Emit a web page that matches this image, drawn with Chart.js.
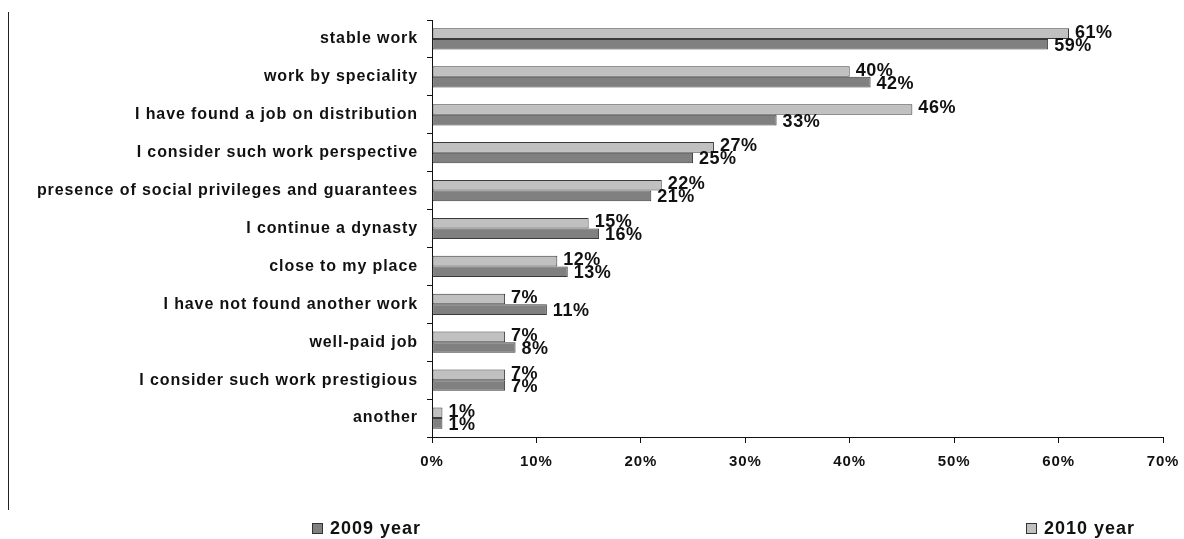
<!DOCTYPE html>
<html>
<head>
<meta charset="utf-8">
<script src="https://cdn.jsdelivr.net/npm/chart.js@4/dist/chart.umd.min.js"></script>
<style>
  html, body { margin: 0; padding: 0; background: #fff; }
  #wrap { position: relative; width: 1184px; height: 539px; }
  #c { position: absolute; left: 0; top: 0; }
  #vline { position: absolute; left: 8px; top: 12px; width: 1px; height: 498px; background: #222; }
  .leg { position: absolute; top: 518px; font: bold 18px "Liberation Sans", Arial, sans-serif; letter-spacing: 1px; color: #111; line-height: 20px; }
  .leg span.box { display: inline-block; width: 9px; height: 9px; border: 1px solid #333; margin-right: 7px; vertical-align: 0px; }
</style>
</head>
<body>
<div id="wrap">
  <canvas id="c" width="1184" height="539"></canvas>
  <div id="vline"></div>
  <div class="leg" style="left:312px"><span class="box" style="background:#808080"></span>2009 year</div>
  <div class="leg" style="left:1026px"><span class="box" style="background:#c0c0c0"></span>2010 year</div>
</div>
<script>
const categories = [
  "stable work",
  "work by speciality",
  "I have found a job on distribution",
  "I consider such work perspective",
  "presence of social privileges and guarantees",
  "I continue a dynasty",
  "close to my place",
  "I have not found another work",
  "well-paid job",
  "I consider such work prestigious",
  "another"
];
const values2010 = [61, 40, 46, 27, 22, 15, 12, 7, 7, 7, 1];
const values2009 = [59, 42, 33, 25, 21, 16, 13, 11, 8, 7, 1];
const xTicks = [0, 10, 20, 30, 40, 50, 60, 70];

const FONT = '"Liberation Sans", Arial, sans-serif';

const spacingPlugin = {
  id: 'spacing',
  beforeLayout(chart) { chart.ctx.letterSpacing = '0.9px'; },
  beforeDraw(chart) { chart.ctx.letterSpacing = '0.9px'; }
};

const labelPlugin = {
  id: 'barLabels',
  afterDatasetsDraw(chart) {
    const ctx = chart.ctx;
    ctx.save();
    ctx.font = 'bold 18px ' + FONT;
    ctx.letterSpacing = '0.5px';
    ctx.fillStyle = '#111';
    ctx.textAlign = 'left';
    ctx.textBaseline = 'middle';
    chart.data.datasets.forEach((ds, di) => {
      const meta = chart.getDatasetMeta(di);
      meta.data.forEach((el, i) => {
        const dy = di === 0 ? -1 : 1.5;
        ctx.fillText(ds.data[i] + '%', el.x + 6, el.y + dy);
      });
    });
    ctx.restore();
  }
};

new Chart(document.getElementById('c'), {
  type: 'bar',
  data: {
    labels: categories,
    datasets: [
      { label: '2010 year', data: values2010, backgroundColor: '#c0c0c0', borderColor: '#3a3a3a', borderWidth: 1, borderSkipped: false,
        categoryPercentage: 0.56, barPercentage: 1.0 },
      { label: '2009 year', data: values2009, backgroundColor: '#808080', borderColor: '#3a3a3a', borderWidth: 1, borderSkipped: false,
        categoryPercentage: 0.56, barPercentage: 1.0 }
    ]
  },
  options: {
    indexAxis: 'y',
    responsive: false,
    animation: false,
    layout: { padding: { top: 20, right: 21, bottom: 72, left: 0 } },
    plugins: { legend: { display: false }, tooltip: { enabled: false } },
    scales: {
      x: {
        min: 0, max: 70,
        afterFit(s) { s.height = 30; s.paddingRight = 0; s.paddingLeft = 0; },
        afterBuildTicks(s) { s.ticks = xTicks.map(v => ({ value: v })); },
        border: { display: true, color: '#111', width: 1 },
        grid: { display: true, drawOnChartArea: false, drawTicks: true, tickLength: 6, color: '#111' },
        ticks: { color: '#111', font: { family: FONT, size: 15, weight: 'bold' }, padding: 10,
                 maxRotation: 0, callback: (v) => v + '%' }
      },
      y: {
        afterFit(s) { s.width = 432; s.paddingTop = 0; s.paddingBottom = 0; },
        border: { display: true, color: '#111', width: 1 },
        grid: { display: true, offset: true, drawOnChartArea: false, drawTicks: true, tickLength: 5, color: '#111' },
        ticks: { color: '#111', font: { family: FONT, size: 16, weight: 'bold' }, padding: 9 }
      }
    }
  },
  plugins: [spacingPlugin, labelPlugin]
});
</script>
</body>
</html>
